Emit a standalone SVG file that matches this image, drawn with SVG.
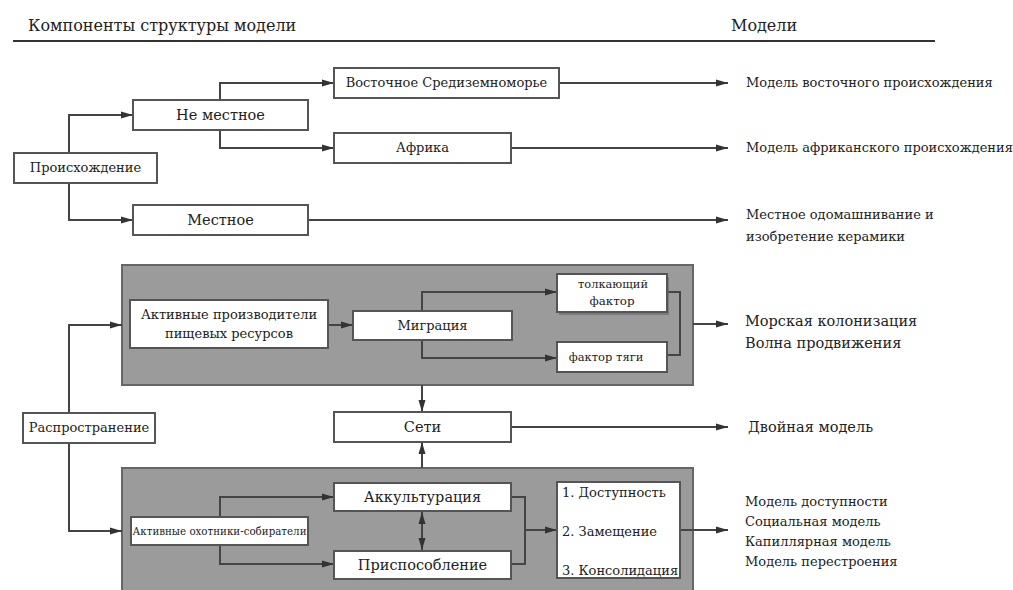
<svg xmlns="http://www.w3.org/2000/svg" width="1013" height="590" viewBox="0 0 1013 590">
<defs>
<marker id="ah" markerWidth="12" markerHeight="8" refX="12" refY="4" orient="auto" markerUnits="userSpaceOnUse">
<path d="M0,0.5 L12,4 L0,7.5 Z" fill="#333"/>
</marker>
<marker id="ahs" markerWidth="12" markerHeight="8" refX="0" refY="4" orient="auto" markerUnits="userSpaceOnUse">
<path d="M12,0.5 L0,4 L12,7.5 Z" fill="#333"/>
</marker>
</defs>
<style>
.box{fill:#fff;stroke:#555;stroke-width:2}
.panel{fill:#9b9b9b;stroke:#666;stroke-width:2}
.c{fill:none;stroke:#444;stroke-width:2}
.a{marker-end:url(#ah)}
.h{font-size:16px}
.b{font-size:14.5px}
.m{font-size:13px}
.s{font-size:11.5px}
</style>
<rect width="1013" height="590" fill="#fff"/>
<g font-family="'DejaVu Serif', serif" fill="#222">
<g id="header">
<text x="28" y="31" class="h">Компоненты структуры модели</text>
<text x="731" y="31" class="h">Модели</text>
<line x1="13" y1="41" x2="935" y2="41" stroke="#333" stroke-width="2"/>
</g>
<g id="panel-upper"><rect class="panel" x="122" y="265" width="571" height="120"/></g>
<g id="panel-lower"><rect class="panel" x="122" y="468" width="571" height="130"/></g>
<g id="connectors">
<path class="c a" d="M69,153 V115 H133"/>
<path class="c a" d="M69,183 V220 H133"/>
<path class="c a" d="M220,100 V83 H334"/>
<path class="c a" d="M220,130 V148 H334"/>
<path class="c a" d="M559,83 H728"/>
<path class="c a" d="M511,148 H728"/>
<path class="c a" d="M308,220 H728"/>
<path class="c a" d="M69,413 V325 H122"/>
<path class="c a" d="M69,443 V531 H122"/>
<path class="c a" d="M328,325 H353"/>
<path class="c a" d="M422,311 V292 H557"/>
<path class="c a" d="M422,340 V358 H557"/>
<path class="c" d="M667,292 H680 V355 H667"/>
<path class="c a" d="M693,324 H728"/>
<path class="c a" d="M422,385 V412"/>
<path class="c a" d="M422,468 V442"/>
<path class="c a" d="M511,427 H728"/>
<path class="c a" d="M220,517 V497 H334"/>
<path class="c a" d="M220,545 V564 H334"/>
<path class="c a" d="M422,512 V550" style="marker-start:url(#ahs)"/>
<path class="c" d="M511,497 H525 V564 H511"/>
<path class="c a" d="M525,530 H557"/>
<path class="c a" d="M680,530 H728"/>
</g>
<g id="n-origin"><rect class="box" x="14" y="153" width="143" height="30"/><text x="85.5" y="172" class="m" text-anchor="middle">Происхождение</text></g>
<g id="n-nonlocal"><rect class="box" x="133" y="100" width="175" height="30"/><text x="220.5" y="120" class="b" text-anchor="middle">Не местное</text></g>
<g id="n-local"><rect class="box" x="133" y="205" width="175" height="30"/><text x="220.5" y="225" class="b" text-anchor="middle">Местное</text></g>
<g id="n-east"><rect class="box" x="334" y="68" width="225" height="30"/><text x="446.5" y="87" class="m" text-anchor="middle">Восточное Средиземноморье</text></g>
<g id="n-africa"><rect class="box" x="334" y="133" width="177" height="30"/><text x="422.5" y="152" class="m" text-anchor="middle">Африка</text></g>
<g id="m-east"><text x="746" y="87" class="m">Модель восточного происхождения</text></g>
<g id="m-africa"><text x="746" y="152" class="m">Модель африканского происхождения</text></g>
<g id="m-local"><text x="746" y="219" class="m">Местное одомашнивание и</text><text x="746" y="241" class="m">изобретение керамики</text></g>
<g id="n-spread"><rect class="box" x="23" y="413" width="132" height="30"/><text x="89" y="432" class="m" text-anchor="middle">Распространение</text></g>
<g id="n-producers"><rect class="box" x="130" y="300" width="198" height="48"/><text x="229" y="319" class="m" text-anchor="middle" font-size="13.3">Активные производители</text><text x="229" y="338" class="m" text-anchor="middle" font-size="13.3">пищевых ресурсов</text></g>
<g id="n-migration"><rect class="box" x="353" y="311" width="159" height="29"/><text x="432.5" y="330" class="m" text-anchor="middle">Миграция</text></g>
<g id="n-push"><rect x="559" y="277" width="110" height="38" fill="#666" opacity="0.6"/><rect class="box" x="557" y="274" width="110" height="38"/><text x="613" y="288" class="s" text-anchor="middle" textLength="70" lengthAdjust="spacingAndGlyphs">толкающий</text><text x="612" y="305" class="s" text-anchor="middle" textLength="45" lengthAdjust="spacingAndGlyphs">фактор</text></g>
<g id="n-pull"><rect class="box" x="557" y="342" width="110" height="30"/><text x="606" y="361" class="s" text-anchor="middle">фактор тяги</text></g>
<g id="m-sea"><text x="745" y="326" class="b" font-size="14.3">Морская колонизация</text><text x="745" y="348" class="b" font-size="14.3">Волна продвижения</text></g>
<g id="n-networks"><rect class="box" x="334" y="412" width="177" height="30"/><text x="422.5" y="432" class="b" text-anchor="middle">Сети</text></g>
<g id="m-dual"><text x="748" y="432" class="b">Двойная модель</text></g>
<g id="n-hunters"><rect class="box" x="131" y="517" width="177" height="28"/><text x="219.5" y="535" class="s" text-anchor="middle" textLength="174" lengthAdjust="spacingAndGlyphs">Активные охотники-собиратели</text></g>
<g id="n-accult"><rect class="box" x="334" y="483" width="177" height="28"/><text x="422.5" y="502" class="b" text-anchor="middle">Аккультурация</text></g>
<g id="n-adapt"><rect class="box" x="334" y="551" width="177" height="28"/><text x="422.5" y="570" class="b" text-anchor="middle">Приспособление</text></g>
<g id="n-list"><rect class="box" x="557" y="482" width="123" height="96"/><text x="562" y="497" class="m" font-size="13.5">1. Доступность</text><text x="562" y="536" class="m" font-size="13.5">2. Замещение</text><text x="562" y="575" class="m" font-size="13.5">3. Консолидация</text></g>
<g id="m-list"><text x="745" y="506" class="m" font-size="13.3">Модель доступности</text><text x="745" y="526" class="m" font-size="13.3">Социальная модель</text><text x="745" y="546" class="m" font-size="13.3">Капиллярная модель</text><text x="745" y="566" class="m" font-size="13.3">Модель перестроения</text></g>
</g>
</svg>
